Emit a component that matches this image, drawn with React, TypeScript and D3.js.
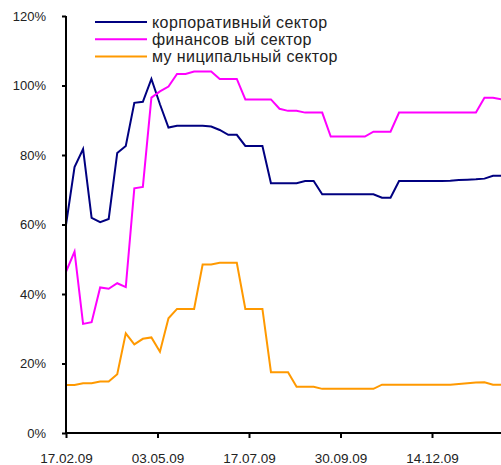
import React, { useEffect, useRef } from 'react';
import * as d3 from 'd3';

// weekly observations starting 17.02.09
const startDate = '17.02.09';
const corporate = [
  59.9, 76.5, 81.7, 61.9, 60.7, 61.6, 80.6, 82.6, 95.0, 95.3,
  101.9, 94.6, 87.9, 88.4, 88.4, 88.4, 88.4, 88.2, 87.2, 85.8,
  85.8, 82.6, 82.6, 82.6, 71.9, 71.9, 71.9, 71.9, 72.5, 72.5,
  68.7, 68.7, 68.7, 68.7, 68.7, 68.7, 68.7, 67.7, 67.7, 72.5,
  72.5, 72.5, 72.5, 72.5, 72.5, 72.6, 72.8, 72.9, 73.0, 73.2,
  74.0, 74.0,
];
const financial = [
  46.4, 52.2, 31.4, 31.9, 41.9, 41.5, 43.1, 42.0, 70.4, 70.8,
  96.5, 98.3, 99.7, 103.3, 103.3, 104.0, 104.0, 104.0, 101.9, 101.9,
  101.9, 96.0, 96.0, 96.0, 96.0, 93.3, 92.7, 92.7, 92.2, 92.2,
  92.2, 85.3, 85.3, 85.3, 85.3, 85.3, 86.7, 86.7, 86.7, 92.2,
  92.2, 92.2, 92.2, 92.2, 92.2, 92.2, 92.2, 92.2, 92.2, 96.5,
  96.5, 96.0,
];
const municipal = [
  13.8, 13.8, 14.3, 14.3, 14.8, 14.8, 16.9, 28.7, 25.5, 27.1,
  27.5, 23.4, 33.0, 35.7, 35.7, 35.7, 48.5, 48.5, 49.0, 49.0,
  49.0, 35.7, 35.7, 35.7, 17.5, 17.5, 17.5, 13.3, 13.3, 13.3,
  12.7, 12.7, 12.7, 12.7, 12.7, 12.7, 12.7, 13.9, 13.9, 13.9,
  13.9, 13.9, 13.9, 13.9, 13.9, 13.9, 14.1, 14.3, 14.5, 14.6,
  13.9, 13.9,
];
const seriesNames = ['корпоративный сектор', 'финансов ый сектор', 'му ниципальный сектор'];
const seriesColors = ['#000080', '#ff00ff', '#ff9900'];
const xTickLabels = ['17.02.09', '03.05.09', '17.07.09', '30.09.09', '14.12.09'];
const xEnd = '27.02.10';
const yTicks = [0, 20, 40, 60, 80, 100, 120];

const App = () => {
  const svgRef = useRef<SVGSVGElement>(null);

  useEffect(() => {
    const svg = d3.select(svgRef.current);
    svg.selectAll('*').remove();

    const width = 501;
    const height = 465;
    const margin = { top: 16, left: 66, bottom: 32 };

    const parse = d3.timeParse('%d.%m.%y');
    const fmt = d3.timeFormat('%d.%m.%y');
    const tickDates = xTickLabels.map((s) => parse(s) as Date);
    const t0 = parse(startDate) as Date;
    const dates = corporate.map((_, i) => d3.timeDay.offset(t0, i * 7));

    const x = d3.scaleTime()
      .domain([tickDates[0], parse(xEnd) as Date])
      .range([margin.left, margin.left + 91.5 * 5]);
    const y = d3.scaleLinear().domain([0, 120]).range([height - margin.bottom, margin.top]);

    const all = [corporate, financial, municipal];

    const line = d3.line<number>()
      .x((_, i) => x(dates[i]))
      .y((d) => y(d));

    all.forEach((vals, k) => {
      svg.append('path')
        .datum(vals)
        .attr('d', line)
        .attr('fill', 'none')
        .attr('stroke', seriesColors[k])
        .attr('stroke-width', 2)
        .attr('stroke-linejoin', 'miter');
    });

    const yAxis = svg.append('g')
      .attr('transform', `translate(${margin.left},0)`)
      .call(d3.axisLeft(y).tickValues(yTicks).tickSize(4).tickPadding(16).tickFormat((d) => `${d}%`));
    yAxis.select('.domain').attr('stroke', '#000').attr('stroke-width', 2)
      .attr('d', `M0,${y(0)}V${y(120)}`);
    yAxis.selectAll('.tick line').attr('stroke', '#000').attr('stroke-width', 2);
    yAxis.selectAll('.tick text')
      .attr('fill', '#222')
      .style('font-family', 'Liberation Sans, Arial, sans-serif')
      .style('font-size', '13px');

    const xAxis = svg.append('g')
      .attr('transform', `translate(0,${y(0)})`)
      .call(d3.axisBottom(x).tickValues(tickDates).tickSize(5).tickPadding(15).tickFormat((d) => fmt(d as Date)));
    xAxis.select('.domain').attr('stroke', '#000').attr('stroke-width', 2)
      .attr('d', `M${margin.left},0H${width + 10}`);
    xAxis.selectAll('.tick line').attr('stroke', '#000').attr('stroke-width', 2);
    xAxis.selectAll('.tick text')
      .attr('fill', '#222')
      .style('font-family', 'Liberation Sans, Arial, sans-serif')
      .style('font-size', '13.5px');

    const legend = svg.append('g').attr('transform', 'translate(95,22)');
    seriesNames.forEach((name, k) => {
      const g = legend.append('g').attr('transform', `translate(0,${k * 17.2})`);
      g.append('line')
        .attr('x1', 0).attr('x2', 52)
        .attr('stroke', seriesColors[k])
        .attr('stroke-width', 2);
      g.append('text')
        .attr('x', 57)
        .attr('dy', '0.35em')
        .attr('fill', '#222')
        .style('font-family', 'Liberation Sans, Arial, sans-serif')
        .style('font-size', '16px')
        .style('letter-spacing', '0.4px')
        .text(name);
    });
  }, []);

  return (
    <svg ref={svgRef} width={501} height={465}
      style={{ position: 'absolute', left: 0, top: 0, background: '#fff' }} />
  );
};

export default App;
